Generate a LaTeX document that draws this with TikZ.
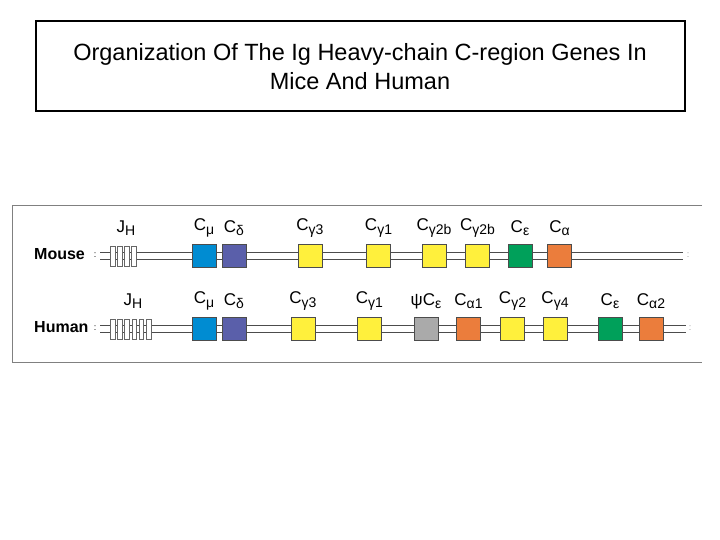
\documentclass[tikz,border=0pt]{standalone}
\usepackage{fontspec}
\setmainfont{Liberation Sans}
\definecolor{cmu}{RGB}{0,140,210}
\definecolor{cdel}{RGB}{90,95,170}
\definecolor{cyel}{RGB}{255,240,60}
\definecolor{cgrn}{RGB}{0,160,90}
\definecolor{corg}{RGB}{235,125,60}
\definecolor{cgry}{RGB}{170,170,170}
\newcommand{\gsub}[1]{\raisebox{-3.5pt}{\fontsize{14}{14}\selectfont #1}}
\tikzset{gene/.style={draw=black!70,line width=0.5pt,minimum width=24pt,minimum height=23pt,inner sep=0pt},
 lbl/.style={font=\fontsize{17}{17}\selectfont,inner sep=0pt},
 jrect/.style={draw=black!60,fill=white,line width=0.5pt,minimum width=4.5pt,minimum height=20pt,inner sep=0pt},
 dna/.style={draw=black!70,line width=0.6pt}}
\begin{document}
\begin{tikzpicture}[x=1pt,y=-1pt]
\useasboundingbox (0,0) rectangle (720,540);
\node[draw,line width=1.5pt,minimum width=649pt,minimum height=90pt,inner sep=0pt] (title) at (360.5,66) {};
\node[align=center,font=\fontsize{23.5}{29}\selectfont] (tt) at (360,67) {Organization Of The Ig Heavy-chain C-region Genes In\\Mice And Human};
\draw[black!50,line width=1pt] (702,206) -- (12,206) -- (12,362) -- (702,362);
\node[font=\bfseries\fontsize{16}{16}\selectfont,anchor=west,inner sep=0pt] (mouse) at (34,254) {Mouse};
\node[font=\bfseries\fontsize{16}{16}\selectfont,anchor=west,inner sep=0pt] (human) at (34,327) {Human};
% DNA lines
\foreach \y/\xe in {252/683,259/683,325/686,332/686}{\draw[dna] (100,\y) -- (\xe,\y);}
\node[font=\small] (d1) at (95,255) {:};
\node[font=\small] (d2) at (95,328) {:};
\node[font=\small,black!40] (d3) at (688,255) {:};
\node[font=\small,black!40] (d4) at (690,328) {:};
% JH
\foreach \i in {0,...,3}{\node[jrect] (jm\i) at (112.5+7*\i,256) {};}
\foreach \i in {0,...,5}{\node[jrect] (jh\i) at (112.5+7.2*\i,329) {};}
\node[lbl] (jml) at (126,228) {J\gsub{H}};
\node[lbl] (jhl) at (133,301) {J\gsub{H}};
% Mouse genes
\foreach \x/\c/\t [count=\k] in {204/cmu/{C\gsub{μ}},234/cdel/{C\gsub{δ}},310/cyel/{C\gsub{γ3}},378.5/cyel/{C\gsub{γ1}},434/cyel/{C\gsub{γ2b}},477.5/cyel/{C\gsub{γ2b}},520/cgrn/{C\gsub{ε}},559.5/corg/{C\gsub{α}}}{
 \node[gene,fill=\c] (m\k) at (\x,255.5) {};
 \node[lbl] (ml\k) at (\x,228) {\t};}
% Human genes
\foreach \x/\c/\t [count=\k] in {204/cmu/{C\gsub{μ}},234/cdel/{C\gsub{δ}},303/cyel/{C\gsub{γ3}},369.5/cyel/{C\gsub{γ1}},426/cgry/{ψC\gsub{ε}},468.5/corg/{C\gsub{α1}},512.5/cyel/{C\gsub{γ2}},555/cyel/{C\gsub{γ4}},610/cgrn/{C\gsub{ε}},651/corg/{C\gsub{α2}}}{
 \node[gene,fill=\c] (h\k) at (\x,328.5) {};
 \node[lbl] (hl\k) at (\x,301) {\t};}
\end{tikzpicture}
\end{document}
